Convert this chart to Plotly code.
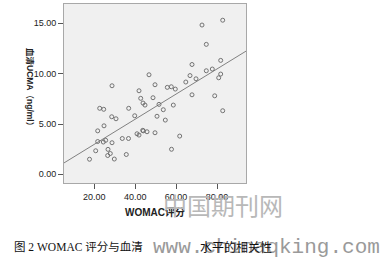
import numpy as np
import plotly.graph_objects as go

# WOMAC score (x) and serum UCMA (ng/ml) (y)
womac = [46.75, 28.66, 49.68, 41.86, 55.70, 57.65, 59.61, 42.69, 48.70, 43.81,
         44.79, 51.64, 58.63, 22.64, 24.60, 36.82, 39.76, 28.51, 30.61, 50.66,
         53.74, 54.72, 24.74, 21.66, 43.67, 43.96, 45.77, 40.88, 41.86, 49.68,
         61.76, 21.66, 24.40, 25.57, 28.66, 33.69, 36.72, 20.68, 26.70, 27.82,
         26.55, 29.78, 35.65, 17.65, 57.75, 72.67, 82.79, 74.77, 67.78, 81.81,
         66.80, 74.77, 77.70, 81.81, 80.83, 69.73, 64.74, 67.78, 78.88, 82.79]
ucma = [9.89, 8.80, 8.90, 8.30, 8.64, 8.70, 8.47, 7.55, 7.61, 7.08,
        6.88, 6.95, 6.88, 6.56, 6.46, 6.56, 5.82, 5.72, 5.52, 5.77,
        6.42, 5.39, 4.82, 4.32, 4.37, 4.32, 4.23, 4.03, 3.90, 4.13,
        3.80, 3.26, 3.21, 3.38, 3.14, 3.56, 3.56, 2.34, 2.48, 2.07,
        1.87, 1.52, 1.97, 1.50, 2.49, 14.83, 15.31, 12.91, 10.91, 11.32,
        9.81, 10.29, 10.46, 9.96, 9.59, 9.49, 9.17, 7.90, 7.80, 6.32]

x_ticks = [20, 40, 60, 80]
y_ticks = [0, 5, 10, 15]
x_title = "WOMAC评分"
y_title = "血清UCMA（ng/ml）"
caption_a = "图 2 WOMAC 评分与血清"
caption_b = "水平的相关性"
watermark_cn = "中国期刊网"
watermark_url = "www.chinaqking.com"

X_RANGE = [5.18, 94.18]
Y_RANGE = [-0.86, 16.92]

slope, intercept = np.polyfit(womac, ucma, 1)
line_x = np.array(X_RANGE)
line_y = intercept + slope * line_x

fig = go.Figure()
fig.add_trace(go.Scatter(
    x=line_x, y=line_y, mode="lines",
    line=dict(color="#808080", width=1), hoverinfo="skip", showlegend=False))
fig.add_trace(go.Scatter(
    x=womac, y=ucma, mode="markers",
    marker=dict(symbol="circle-open", size=4, color="#666666", line=dict(width=0.9)),
    showlegend=False))

axis_common = dict(
    showgrid=False, zeroline=False, showline=True, mirror=True,
    linecolor="#a8a8a8", linewidth=1, ticks="outside", ticklen=5,
    tickcolor="#555555", tickformat=".2f",
    tickfont=dict(family="Arial, Liberation Sans", size=9, color="#222222"),
)
fig.update_xaxes(range=X_RANGE, tickvals=x_ticks, **axis_common)
fig.update_yaxes(range=Y_RANGE, tickvals=y_ticks, **axis_common)

fig.update_layout(
    width=389, height=263,
    margin=dict(l=64, r=143, t=4, b=80),
    plot_bgcolor="#f0f0f0", paper_bgcolor="white",
    font=dict(family="Arial, Liberation Sans, Noto Sans CJK SC"),
)

annots = [
    dict(text="<b>" + x_title + "</b>", x=155, y=212, size=10, color="#222222",
         family="Arial, Noto Sans CJK SC", angle=0),
    dict(text="<b>" + y_title + "</b>", x=30, y=89, size=8.5, color="#222222",
         family="Arial, Noto Sans CJK SC", angle=90),
    dict(text=watermark_cn, x=223, y=204, size=24, color="#b8b8b8",
         family="Noto Sans CJK SC", angle=0),
    dict(text=caption_a, x=78, y=246, size=11.5, color="#111111",
         family="Liberation Serif, Noto Sans CJK SC", angle=0),
    dict(text=watermark_url, x=266, y=247, size=21, color="#9a9a9a",
         family="Liberation Mono, DejaVu Sans Mono", angle=0),
    dict(text=caption_b, x=236, y=246, size=12, color="#111111",
         family="Noto Sans CJK SC", angle=0),
]
for a in annots:
    fig.add_annotation(
        text=a["text"], x=a["x"] / 389, y=1 - a["y"] / 263,
        xref="paper", yref="paper", xanchor="center", yanchor="middle",
        showarrow=False, textangle=a["angle"],
        font=dict(size=a["size"], color=a["color"], family=a["family"]),
    )

# convert pixel positions to paper coords relative to plot area
pw, ph = 389 - 64 - 143, 263 - 4 - 80
for ann in fig.layout.annotations:
    px = ann.x * 389
    py = (1 - ann.y) * 263
    ann.x = (px - 64) / pw
    ann.y = 1 - (py - 4) / ph

fig.write_html("out.html")
